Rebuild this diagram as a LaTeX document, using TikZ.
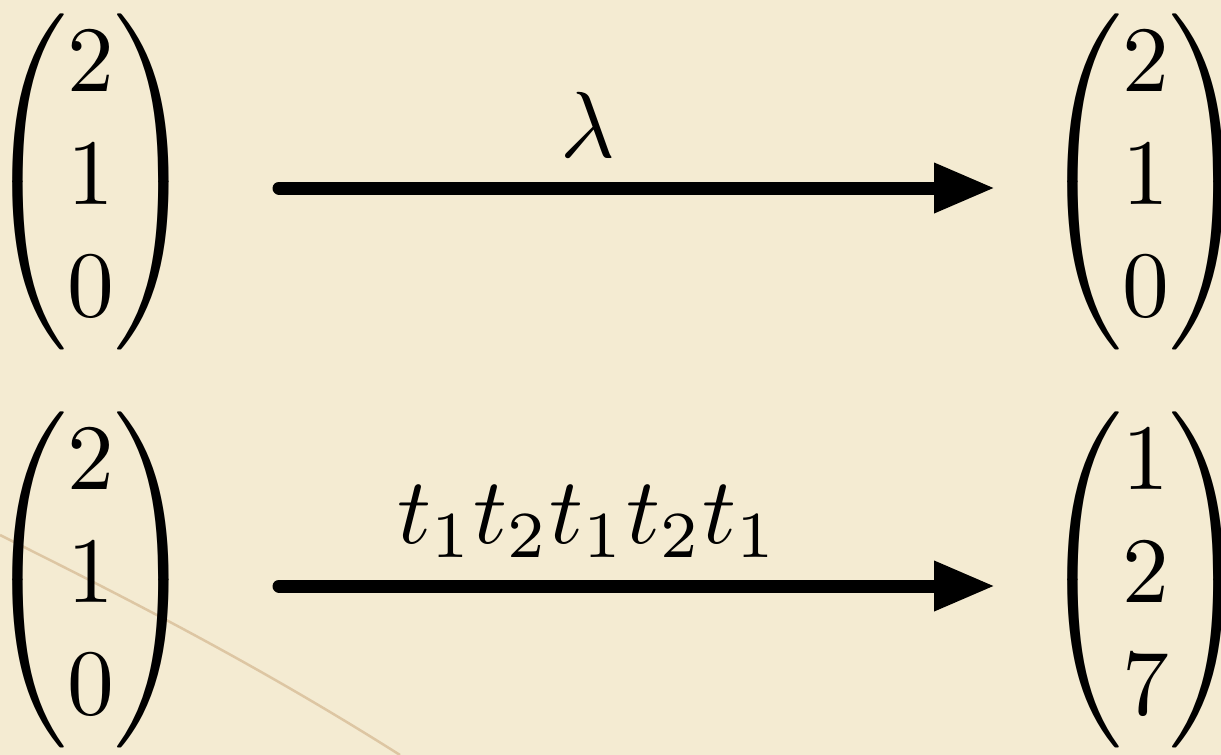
\documentclass[tikz,border=0pt]{standalone}
\usepackage{amsmath}
\usetikzlibrary{arrows.meta}
\definecolor{parch}{HTML}{F4EBD2}
\definecolor{stain}{HTML}{C29A6A}
\tikzset{
  vec/.style={inner sep=0pt, scale=9.35, anchor=base},
  lab/.style={inner sep=0pt, scale=9.4, anchor=base},
  arr/.style={line width=13pt, line cap=round, -{Triangle[length=61pt,width=47pt]}},
}
\begin{document}
\begin{tikzpicture}[x=1pt,y=-1pt]
\fill[parch] (0,0) rectangle (1221,755);
\useasboundingbox (0,0) rectangle (1221,755);
\draw[stain, opacity=0.45, line width=2.5pt] (0,535) .. controls (110,590) and (250,660) .. (400,755);
% matrices
\node[vec] (tl) at (91,205) {$\begin{pmatrix}2\\1\\0\end{pmatrix}$};
\node[vec] (tr) at (1146,205) {$\begin{pmatrix}2\\1\\0\end{pmatrix}$};
\node[vec] (bl) at (91,603) {$\begin{pmatrix}2\\1\\0\end{pmatrix}$};
\node[vec] (br) at (1146,603) {$\begin{pmatrix}1\\2\\7\end{pmatrix}$};
% arrow endpoints
\coordinate (a1) at (279,188);
\coordinate (b1) at (995,188);
\coordinate (a2) at (279,586);
\coordinate (b2) at (995,586);
\draw[arr] (a1) -- (b1);
\draw[arr] (a2) -- (b2);
\node[lab] (l1) at (588,157) {$\lambda$};
\node[lab] (l2) at (588,543) {$t_1t_2t_1t_2t_1$};
\end{tikzpicture}
\end{document}
